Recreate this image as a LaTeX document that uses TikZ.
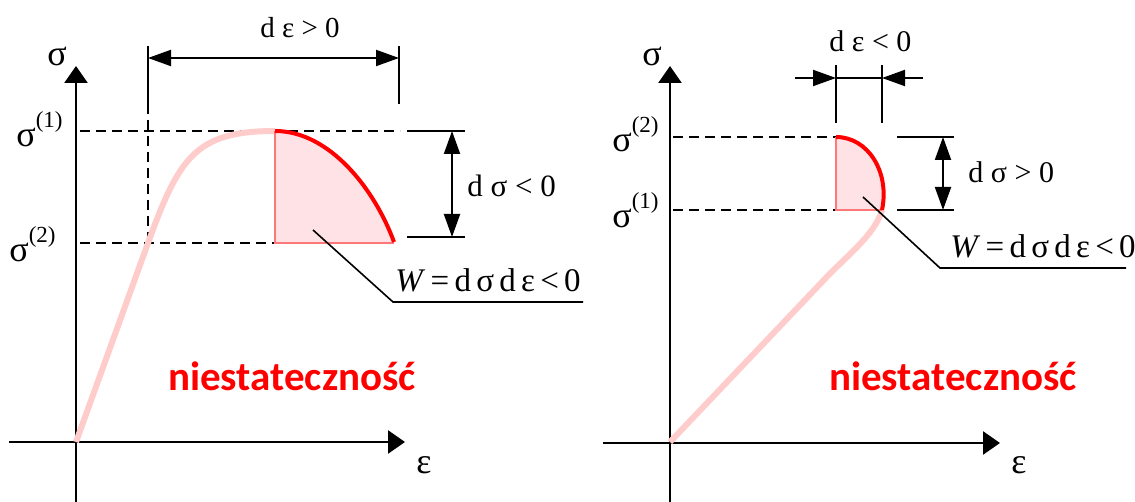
\documentclass[tikz,border=0pt]{standalone}
\usepackage{fontspec}
\setmainfont{Liberation Serif}
\newfontfamily\plfont{Carlito}
\usetikzlibrary{arrows.meta}
\definecolor{jasny}{RGB}{255,204,204}
\definecolor{wypelnienie}{RGB}{255,226,230}
\definecolor{krawedz}{RGB}{255,120,120}
\newcommand{\sigidx}[1]{{\fontsize{18}{18}\selectfont σ}\raisebox{9.5pt}{\fontsize{11.5}{11.5}\selectfont(#1)}}
\newcommand{\odst}{\hspace{0.16em}}
\begin{document}
\begin{tikzpicture}[x=0.5pt,y=-0.5pt,
  every node/.style={inner sep=0pt,font=\fontsize{16.5}{16.5}\selectfont},
  os/.style={line width=1.3pt,-{Triangle[length=8.5pt,width=11.5pt]}},
  grot/.style={-{Triangle[length=11.5pt,width=8pt]}},
  wymiar/.style={line width=1pt,{Triangle[length=11.5pt,width=8pt]}-{Triangle[length=11.5pt,width=8pt]}},
  kreski/.style={line width=1pt,dash pattern=on 5pt off 3pt},
  krzywa/.style={line width=3pt,jasny},
  litera/.style={font=\fontsize{18}{18}\selectfont},
  opis/.style={text=red,font={\plfont\bfseries\fontsize{20.5}{20.5}\selectfont}}]
\useasboundingbox (0,0) rectangle (1135,502);

% ---- lewy wykres ----
\coordinate (O1) at (76,442);
\coordinate (A1) at (275,131);
\coordinate (B1) at (394,242);
\coordinate (C1) at (148,243);
% osie
\draw[os] (9,442) -- (405,442);
\draw[os] (76,502) -- (76,66);
\node[litera] (sig1) at (57,56) {σ};
\node[litera] (eps1) at (424,465) {ε};
\node[anchor=base west] (s11) at (16,147) {\sigidx{1}};
\node[anchor=base west] (s12) at (9,262) {\sigidx{2}};
% linie pomocnicze
\draw[kreski] (80,131) -- (400,131);
\draw[kreski] (80,243) -- (275,243);
\draw[kreski] (148,104) -- (C1);
% krzywa
\draw[krzywa] (O1) -- (C1) .. controls (179,158) and (195,131) .. (A1);
% praca W
\fill[wypelnienie] (A1) .. controls (330,131) and (375,190) .. (B1) -- (394,243) -- (275,243) -- cycle;
\draw[krawedz,line width=0.8pt] (394,243) -- (275,243) -- (A1);
\draw[red,line width=2pt] (A1) .. controls (330,131) and (375,190) .. (B1);
% wymiar d eps
\draw[line width=1pt] (148,46) -- (148,104);
\draw[line width=1pt] (399,46) -- (399,104);
\draw[wymiar] (148,58) -- (399,58);
\node[anchor=base,font=\fontsize{14.5}{14.5}\selectfont] (de1) at (300,38) {d ε > 0};
% wymiar d sigma
\draw[line width=1pt] (407,131) -- (465,131);
\draw[line width=1pt] (407,237) -- (465,237);
\draw[wymiar] (452,131) -- (452,237);
\node[anchor=base west,font=\fontsize{15.5}{15.5}\selectfont] (ds1) at (467,197) {d σ < 0};
% odnosnik
\node[anchor=base west] (w1) at (395,292) {\textit{W}\odst=\odst d\odst σ\odst d\odst ε\odst<\odst 0};
\draw[line width=0.8pt] (313,230) -- (393,302) -- (583,302);
\node[opis,anchor=base] (n1) at (292,390) {niestateczność};

% ---- prawy wykres ----
\coordinate (O2) at (670,442);
\coordinate (A2) at (836,137);
\coordinate (B2) at (882,210);
% osie
\draw[os] (603,443) -- (1000,443);
\draw[os] (670,502) -- (670,66);
\node[litera] (sig2) at (652,56) {σ};
\node[litera] (eps2) at (1019,465) {ε};
\node[anchor=base west] (s22) at (612,152) {\sigidx{2}};
\node[anchor=base west] (s21) at (612,228) {\sigidx{1}};
% linie pomocnicze
\draw[kreski] (673,137) -- (A2);
\draw[kreski] (673,210) -- (836,210);
% krzywa
\draw[krzywa] (O2) -- (822,282) .. controls (846,256) and (875,235) .. (B2);
% praca W
\fill[wypelnienie] (A2) .. controls (868,137) and (890,172) .. (B2) -- (836,210) -- cycle;
\draw[krawedz,line width=0.8pt] (B2) -- (836,210) -- (A2);
\draw[red,line width=2pt] (A2) .. controls (868,137) and (890,172) .. (B2);
% wymiar d eps
\draw[line width=1pt] (836,65) -- (836,123);
\draw[line width=1pt] (882,65) -- (882,123);
\draw[grot,line width=1pt] (795,78) -- (836,78);
\draw[line width=1pt] (836,78) -- (882,78);
\draw[grot,line width=1pt] (923,78) -- (882,78);
\node[anchor=base west,font=\fontsize{15}{15}\selectfont] (de2) at (829,52) {d ε < 0};
% wymiar d sigma
\draw[line width=1pt] (897,137) -- (954,137);
\draw[line width=1pt] (897,210) -- (954,210);
\draw[wymiar] (943,137) -- (943,210);
\node[anchor=base west,font=\fontsize{15}{15}\selectfont] (ds2) at (968,183) {d σ > 0};
% odnosnik
\node[anchor=base west] (w2) at (950,258) {\textit{W}\odst=\odst d\odst σ\odst d\odst ε\odst<\odst 0};
\draw[line width=0.8pt] (863,197) -- (940,268) -- (1126,268);
\node[opis,anchor=base] (n2) at (953,390) {niestateczność};
\end{tikzpicture}
\end{document}
